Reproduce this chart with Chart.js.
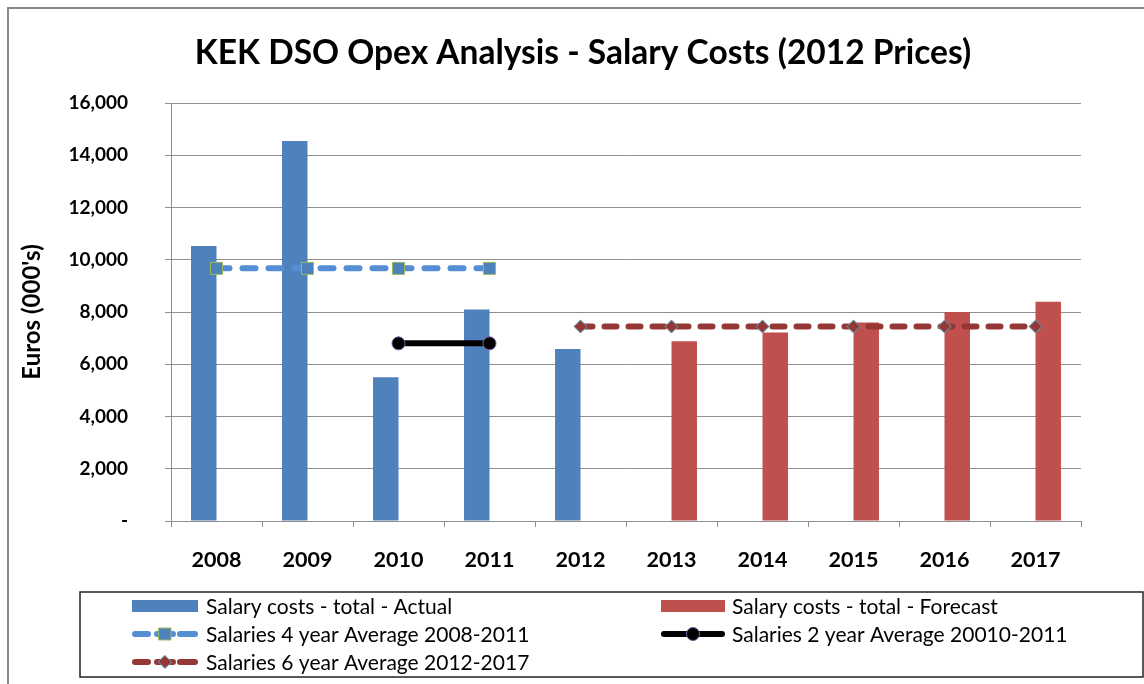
<!DOCTYPE html>
<html>
<head>
<meta charset="utf-8">
<script src="https://cdn.jsdelivr.net/npm/chart.js@4/dist/chart.umd.min.js"></script>
<style>
html,body{margin:0;padding:0;background:#fff;}
#wrap{width:1144px;height:684px;position:relative;}
</style>
</head>
<body>
<div id="wrap"><canvas id="c" width="1144" height="684"></canvas></div>
<script>
const chartTitle = 'KEK DSO Opex Analysis - Salary Costs (2012 Prices)';
const yAxisTitle = "Euros (000's)";
const categories = ['2008','2009','2010','2011','2012','2013','2014','2015','2016','2017'];
const actual   = [10530, 14550, 5500, 8100, 6580, null, null, null, null, null];
const forecast = [null, null, null, null, null, 6880, 7220, 7600, 8000, 8390];
const avg4     = [9670, 9670, 9670, 9670, null, null, null, null, null, null];
const avg2     = [null, null, 6800, 6800, null, null, null, null, null, null];
const avg6     = [null, null, null, null, 7445, 7445, 7445, 7445, 7445, 7445];
const labelActual   = 'Salary costs - total - Actual';
const labelForecast = 'Salary costs - total - Forecast';
const labelAvg4 = 'Salaries 4 year Average 2008-2011';
const labelAvg2 = 'Salaries 2 year Average 20010-2011';
const labelAvg6 = 'Salaries 6 year Average 2012-2017';

const FONT = 'Lato, "Open Sans", sans-serif';
const GRID = '#8f8f8f';

const decor = {
  id: 'decor',
  beforeDraw(chart) {
    const ctx = chart.ctx;
    ctx.save();
    ctx.fillStyle = '#fff';
    ctx.fillRect(0, 0, chart.width, chart.height);
    ctx.strokeStyle = '#8a8a8a';
    ctx.lineWidth = 2;
    ctx.beginPath();
    ctx.moveTo(8, chart.height + 5);
    ctx.lineTo(8, 8);
    ctx.lineTo(chart.width + 5, 8);
    ctx.stroke();
    ctx.restore();
  },
  afterDraw(chart) {
    const ctx = chart.ctx;
    const ds = chart.data.datasets;
    ctx.save();
    // title
    ctx.fillStyle = '#000';
    ctx.font = 'bold 33.5px ' + FONT;
    ctx.textAlign = 'center';
    ctx.textBaseline = 'middle';
    ctx.fillText(chartTitle, 583, 53);
    // legend box
    ctx.strokeStyle = '#222';
    ctx.lineWidth = 1.5;
    ctx.strokeRect(80, 592, 1063, 85);
    const items = [
      {d: ds[0], col: 0, row: 0},
      {d: ds[1], col: 1, row: 0},
      {d: ds[2], col: 0, row: 1},
      {d: ds[3], col: 1, row: 1},
      {d: ds[4], col: 0, row: 2}
    ];
    const cols = [{x0: 132, x1: 198, tx: 206}, {x0: 661, x1: 725, tx: 732}];
    const rows = [606, 634, 662];
    ctx.font = '21px ' + FONT;
    ctx.textAlign = 'left';
    for (const it of items) {
      const c = cols[it.col], y = rows[it.row], d = it.d;
      if (d.type === 'bar' || !d.type) {
        ctx.fillStyle = d.backgroundColor;
        ctx.fillRect(c.x0, y - 6, c.x1 - c.x0, 12);
      } else {
        const cx = (c.x0 + c.x1) / 2;
        ctx.strokeStyle = d.borderColor;
        ctx.lineWidth = d.borderWidth;
        ctx.lineCap = 'round';
        ctx.setLineDash([]);
        ctx.beginPath();
        if (d.borderDash && d.borderDash.length) {
          ctx.moveTo(c.x0 + 3, y); ctx.lineTo(c.x0 + 16, y);
          ctx.moveTo(cx - 8, y); ctx.lineTo(cx + 8, y);
          ctx.moveTo(c.x1 - 18, y); ctx.lineTo(c.x1 - 3, y);
        } else {
          ctx.moveTo(c.x0 + 3, y); ctx.lineTo(c.x1 - 3, y);
        }
        ctx.stroke();
        ctx.fillStyle = d.pointBackgroundColor;
        ctx.strokeStyle = d.pointBorderColor;
        ctx.lineWidth = 1;
        const r = d.pointRadius;
        ctx.beginPath();
        if (d.pointStyle === 'rect') {
          const s = r * Math.SQRT1_2;
          ctx.rect(cx - s, y - s, 2 * s, 2 * s);
        } else if (d.pointStyle === 'rectRot') {
          ctx.moveTo(cx, y - r); ctx.lineTo(cx + r, y); ctx.lineTo(cx, y + r); ctx.lineTo(cx - r, y); ctx.closePath();
        } else {
          ctx.arc(cx, y, r, 0, Math.PI * 2);
        }
        ctx.fill();
        ctx.stroke();
      }
      ctx.fillStyle = '#000';
      ctx.fillText(d.label, c.tx, y + 1);
    }
    ctx.restore();
  }
};

new Chart(document.getElementById('c'), {
  type: 'bar',
  data: {
    labels: categories,
    datasets: [
      {type: 'bar', label: labelActual, data: actual, backgroundColor: '#4F81BD', order: 2,
       categoryPercentage: 0.56, barPercentage: 1.0},
      {type: 'bar', label: labelForecast, data: forecast, backgroundColor: '#C0504D', order: 2,
       categoryPercentage: 0.56, barPercentage: 1.0},
      {type: 'line', label: labelAvg4, data: avg4, borderColor: '#558ED5', borderWidth: 6,
       borderDash: [13, 13], borderCapStyle: 'round', pointStyle: 'rect', pointRadius: 8.5,
       pointBackgroundColor: '#4F81BD', pointBorderColor: '#9BBB59', pointBorderWidth: 1,
       fill: false, spanGaps: false, order: 0},
      {type: 'line', label: labelAvg2, data: avg2, borderColor: '#000000', borderWidth: 6,
       borderDash: [], pointStyle: 'circle', pointRadius: 6.5,
       pointBackgroundColor: '#000000', pointBorderColor: '#7A5BA0', pointBorderWidth: 1,
       fill: false, order: 0},
      {type: 'line', label: labelAvg6, data: avg6, borderColor: '#953735', borderWidth: 6,
       borderDash: [12, 12], borderCapStyle: 'round', pointStyle: 'rectRot', pointRadius: 6.5,
       pointBackgroundColor: '#953735', pointBorderColor: '#4BACC6', pointBorderWidth: 1,
       fill: false, order: 0}
    ]
  },
  options: {
    responsive: false,
    animation: false,
    devicePixelRatio: 1,
    layout: {padding: {top: 103, right: 63, bottom: 100, left: 0}},
    plugins: {
      legend: {display: false},
      title: {display: false},
      tooltip: {enabled: false}
    },
    scales: {
      x: {
        grid: {display: true, drawOnChartArea: false, drawTicks: true, tickLength: 6, color: GRID, offset: true},
        border: {display: true, color: GRID},
        ticks: {color: '#000', font: {family: FONT, size: 21.5, weight: 'bold'}, padding: 20, maxRotation: 0},
        afterFit(s) { s.height = 63; }
      },
      y: {
        min: 0, max: 16000,
        grid: {color: GRID, tickLength: 6, drawTicks: true},
        border: {display: true, color: GRID},
        ticks: {
          stepSize: 2000, color: '#000', padding: 37,
          font: {family: FONT, size: 19, weight: 'bold'},
          callback: v => v === 0 ? '-' : Number(v).toLocaleString('en-US')
        },
        title: {display: true, text: yAxisTitle, color: '#000',
                font: {family: FONT, size: 24, weight: 'bold'}, padding: {top: 18, bottom: 0}},
        afterFit(s) { s.width = 171; }
      }
    }
  },
  plugins: [decor]
});
</script>
</body>
</html>
